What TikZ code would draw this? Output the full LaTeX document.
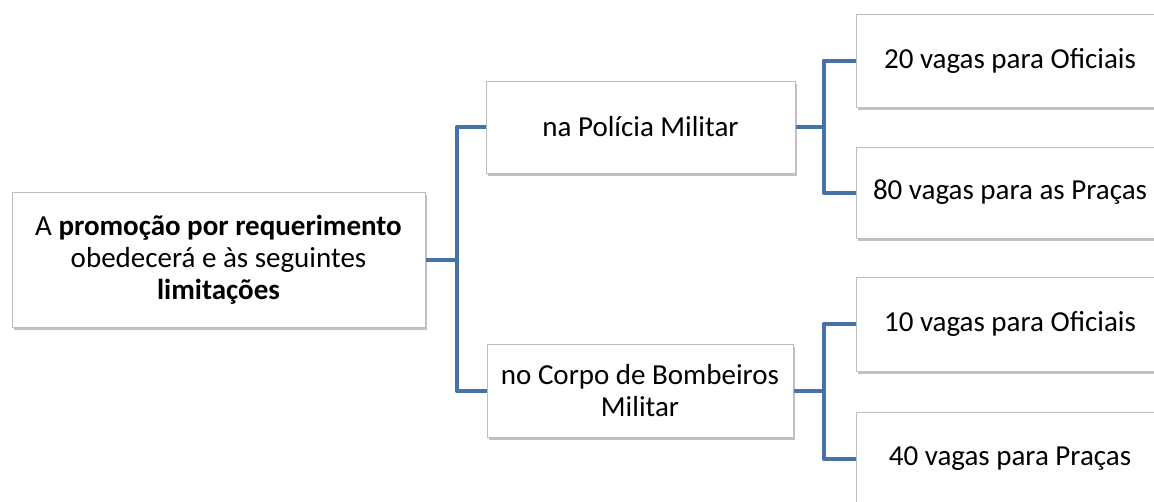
\documentclass[tikz,border=0pt]{standalone}
\usepackage{fontspec}
\setmainfont{Carlito}
\usetikzlibrary{shadows}
\definecolor{conn}{RGB}{70,114,166}
\definecolor{bord}{RGB}{190,190,190}
\begin{document}
\begin{tikzpicture}[x=1pt,y=-1pt,
  box/.style={draw=bord, line width=1pt, fill=white, inner sep=4pt, align=center,
    font=\fontsize{29}{32}\selectfont,
    drop shadow={shadow xshift=1.5pt, shadow yshift=-2.5pt, opacity=0.35, fill=black!70}},
  link/.style={draw=conn, line width=4pt, line join=round}]
\useasboundingbox (0,0) rectangle (1154,501);
\clip (0,0) rectangle (1154,501);
\node[box, minimum width=413pt, minimum height=135pt] (root) at (218.5,259.5)
  {A \textbf{promoção por requerimento}\\obedecerá e às seguintes\\\textbf{limitações}};
\node[box, minimum width=309pt, minimum height=92pt] (pm) at (640.5,127) {na Polícia Militar};
\node[box, minimum width=306pt, minimum height=93pt] (cb) at (640,390.5) {no Corpo de Bombeiros\\Militar};
\node[box, minimum width=308pt, minimum height=93pt] (l1) at (1010,60.5) {20 vagas para Oficiais};
\node[box, minimum width=308pt, minimum height=91pt] (l2) at (1010,192.5) {80 vagas para as Praças};
\node[box, minimum width=308pt, minimum height=94pt] (l3) at (1010,324) {10 vagas para Oficiais};
\node[box, minimum width=308pt, minimum height=93pt] (l4) at (1010,458.5) {40 vagas para Praças};
\draw[link] (root.east) -- ++(31,0) |- (pm.west);
\draw[link] (root.east) -- ++(31,0) |- (cb.west);
\draw[link] (pm.east) -- ++(28,0) |- (l1.west);
\draw[link] (pm.east) -- ++(28,0) |- (l2.west);
\draw[link] (cb.east) -- ++(30,0) |- (l3.west);
\draw[link] (cb.east) -- ++(30,0) |- (l4.west);
\end{tikzpicture}
\end{document}
